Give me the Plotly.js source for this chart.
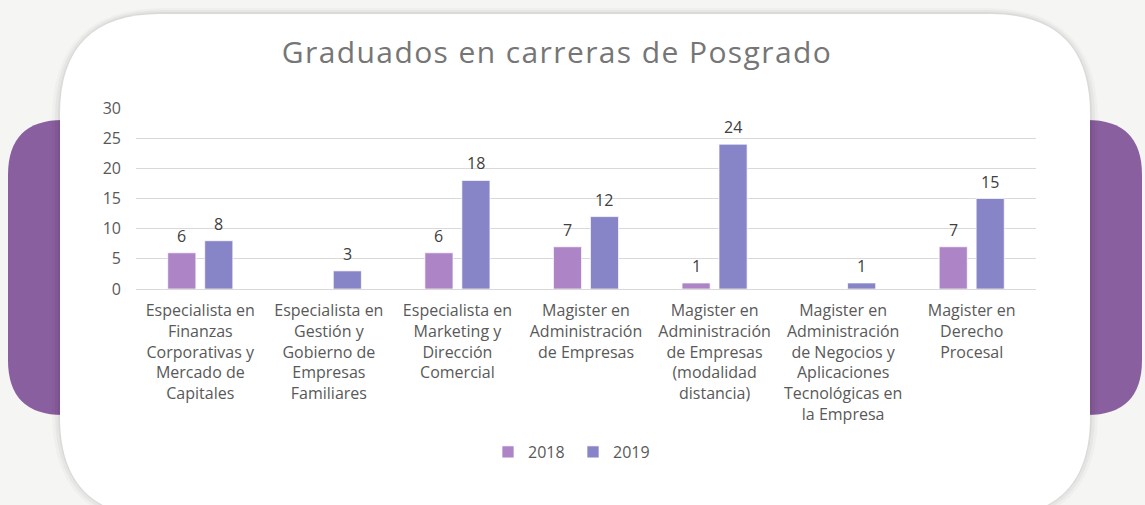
<!DOCTYPE html>
<html>
<head>
<meta charset="utf-8">
<script src="https://cdn.plot.ly/plotly-3.0.1.min.js"></script>
<style>
html,body{margin:0;padding:0;background:#f5f5f4;}
#chart{width:1145px;height:505px;}
#chart .gtitle{letter-spacing:1.4px;}
</style>
</head>
<body>
<div id="chart"></div>
<script>
// ---- data ----
var categories = [
  "Especialista en<br>Finanzas<br>Corporativas y<br>Mercado de<br>Capitales",
  "Especialista en<br>Gestión y<br>Gobierno de<br>Empresas<br>Familiares",
  "Especialista en<br>Marketing y<br>Dirección<br>Comercial",
  "Magister en<br>Administración<br>de Empresas",
  "Magister en<br>Administración<br>de Empresas<br>(modalidad<br>distancia)",
  "Magister en<br>Administración<br>de Negocios y<br>Aplicaciones<br>Tecnológicas en<br>la Empresa",
  "Magister en<br>Derecho<br>Procesal"
];
var values2018 = [6, null, 6, 7, 1, null, 7];
var values2019 = [8, 3, 18, 12, 24, 1, 15];
var seriesNames = ["2018", "2019"];
var seriesColors = ["#ad84c6", "#8784c7"];
var yTicks = [0, 5, 10, 15, 20, 25, 30];
var chartTitle = "Graduados en carreras de Posgrado";

// ---- layout geometry (pixels) ----
var W = 1145, H = 505;
var L = 136, R = 1036, T = 108, B = 289;
function px(x){ return (x - L) / (R - L); }
function py(y){ return (B - y) / (B - T); }
function roundRect(x0, y0, x1, y1, r){
  var p = [];
  p.push("M" + px(x0 + r) + "," + py(y0));
  p.push("L" + px(x1 - r) + "," + py(y0));
  p.push("Q" + px(x1) + "," + py(y0) + " " + px(x1) + "," + py(y0 + r));
  p.push("L" + px(x1) + "," + py(y1 - r));
  p.push("Q" + px(x1) + "," + py(y1) + " " + px(x1 - r) + "," + py(y1));
  p.push("L" + px(x0 + r) + "," + py(y1));
  p.push("Q" + px(x0) + "," + py(y1) + " " + px(x0) + "," + py(y1 - r));
  p.push("L" + px(x0) + "," + py(y0 + r));
  p.push("Q" + px(x0) + "," + py(y0) + " " + px(x0 + r) + "," + py(y0));
  p.push("Z");
  return p.join(" ");
}
function deco(path, fill, opacity){
  return {type:"path", xref:"paper", yref:"paper", path:path, fillcolor:fill,
          line:{width:0}, layer:"below", opacity:opacity};
}
var shapes = [
  deco(roundRect(8, 120, 140, 415, 55), "#8a5f9f", 1),
  deco(roundRect(1000, 120, 1142, 415, 55), "#8a5f9f", 1),
  deco(roundRect(52, 8, 1098, 525, 112), "#000000", 0.025),
  deco(roundRect(55, 10, 1095, 522, 108), "#000000", 0.035),
  deco(roundRect(58, 12, 1092, 519, 104), "#000000", 0.05),
  deco(roundRect(60, 14, 1090, 517, 100), "#ffffff", 1)
];

var fontFamily = "'Open Sans', sans-serif";

// grouped bar geometry: offset of each bar centre from its category centre
var bargap = 0.425;
var barOffset = (1 - bargap) / 4;

var traces = [
  {type:"bar", name:seriesNames[0], x:categories, y:values2018,
   marker:{color:seriesColors[0], line:{color:"rgba(255,255,255,0.7)", width:1}},
   hoverinfo:"skip"},
  {type:"bar", name:seriesNames[1], x:categories, y:values2019,
   marker:{color:seriesColors[1], line:{color:"rgba(255,255,255,0.7)", width:1}},
   hoverinfo:"skip"}
];

var annotations = [];
[values2018, values2019].forEach(function(vals, s){
  vals.forEach(function(v, i){
    if (v === null) return;
    annotations.push({x: i + (s === 0 ? -barOffset : barOffset), y: v,
      xref:"x", yref:"y", text:String(v), showarrow:false,
      xanchor:"center", yanchor:"bottom", yshift:4,
      font:{family:fontFamily, size:16, color:"#404040"}});
  });
});

var layout = {
  width:W, height:H,
  margin:{l:L, r:W-R, t:T, b:H-B, pad:0},
  paper_bgcolor:"#f5f5f4",
  plot_bgcolor:"rgba(0,0,0,0)",
  font:{family:fontFamily, color:"#595959", size:16},
  title:{text:chartTitle, x:557/W, xref:"container", xanchor:"center",
         y:1-52/H, yref:"container", yanchor:"middle",
         font:{family:fontFamily, size:30, color:"#767676"}},
  barmode:"group",
  bargap:bargap,
  bargroupgap:0.24,
  xaxis:{type:"category", showgrid:false, showline:false, ticks:"",
         tickangle:0, ticklabelstandoff:10,
         tickfont:{family:fontFamily, size:16, color:"#595959"},
         fixedrange:true, automargin:false},
  yaxis:{range:[0,30], tickvals:yTicks, showgrid:true, gridcolor:"#d9d9d9", gridwidth:1,
         zeroline:true, zerolinecolor:"#d9d9d9", zerolinewidth:1,
         showline:false, ticks:"", ticklabelstandoff:14,
         tickfont:{family:fontFamily, size:16, color:"#595959"},
         fixedrange:true, automargin:false},
  showlegend:true,
  legend:{orientation:"h", x:px(573), xanchor:"center", y:py(452), yanchor:"middle",
          font:{family:fontFamily, size:16, color:"#595959"},
          itemwidth:30, entrywidth:40, entrywidthmode:"pixels",
          tracegroupgap:0, bgcolor:"rgba(0,0,0,0)"},
  annotations:annotations,
  shapes:shapes
};

Plotly.newPlot("chart", traces, layout, {displayModeBar:false, staticPlot:true});
</script>
</body>
</html>
